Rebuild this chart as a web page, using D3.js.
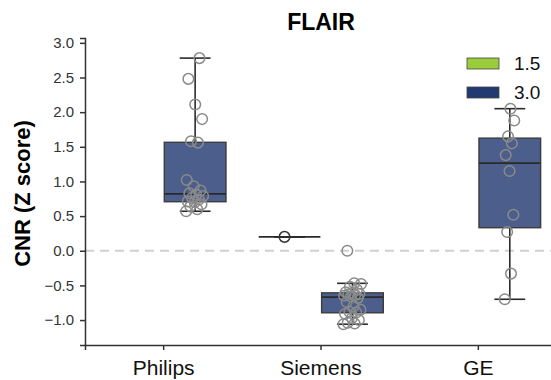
<!DOCTYPE html>
<html>
<head>
<meta charset="utf-8">
<script src="https://cdn.jsdelivr.net/npm/d3@7"></script>
<style>
  body { margin: 0; background: #fff; }
  text { font-family: Arial, "Liberation Sans", sans-serif; }
</style>
</head>
<body>
<script>
const width = 551,
  height = 380;

// data
const scanners = ['Philips', 'Siemens', 'GE'];
const fields = ['1.5', '3.0'];
const yTicks = [-1.0, -0.5, 0.0, 0.5, 1.0, 1.5, 2.0, 2.5, 3.0];

const philips15 = [];
const philips30 = [0.57, 0.6, 0.64, 0.67, 0.70, 0.71, 0.74, 0.76, 0.79, 0.81,
  0.83, 0.87, 0.93, 1.02, 1.56, 1.58, 1.90, 2.11, 2.48, 2.78];
const siemens15 = [0.2];
const siemens30 = [-1.06, -1.05, -1.04, -1.0, -0.97, -0.91, -0.89, -0.88, -0.85, -0.80,
  -0.74, -0.68, -0.66, -0.65, -0.64, -0.63, -0.62, -0.61, -0.60, -0.56,
  -0.52, -0.48, -0.47, 0.0];
const ge15 = [];
const ge30 = [-0.70, -0.33, 0.27, 0.52, 1.15, 1.38, 1.55, 1.65, 1.88, 2.05];

const legendColors = ['#9acd3c', '#223a72'];
const boxColors = ['#a3c760', '#4c5e8b'];

const groups = [
  { scanner: 'Philips', field: '1.5', values: philips15 },
  { scanner: 'Philips', field: '3.0', values: philips30 },
  { scanner: 'Siemens', field: '1.5', values: siemens15 },
  { scanner: 'Siemens', field: '3.0', values: siemens30 },
  { scanner: 'GE', field: '1.5', values: ge15 },
  { scanner: 'GE', field: '3.0', values: ge30 }
];

const margin = { top: 38, right: -6, bottom: 35, left: 85 };

const svg = d3.select('body').append('svg')
  .attr('width', width)
  .attr('height', height);

const x = d3.scaleBand()
  .domain(scanners)
  .range([margin.left, width - margin.right]);

const hue = d3.scaleBand()
  .domain(fields)
  .range([x.bandwidth() * 0.1, x.bandwidth() * 0.9]);

const y = d3.scaleLinear()
  .domain([-1.36, 3.07])
  .range([height - margin.bottom, margin.top]);

// zero reference line
svg.append('line')
  .attr('x1', margin.left).attr('x2', width)
  .attr('y1', y(0)).attr('y2', y(0))
  .attr('stroke', '#d0d0d0')
  .attr('stroke-width', 2)
  .attr('stroke-dasharray', '9,6');

// boxes
const boxW = hue.bandwidth() * 0.98;
groups.filter(g => g.values.length).forEach(g => {
  const v = g.values.slice().sort(d3.ascending);
  const q1 = d3.quantile(v, 0.25),
    med = d3.quantile(v, 0.5),
    q3 = d3.quantile(v, 0.75);
  const iqr = q3 - q1;
  const lo = d3.min(v.filter(d => d >= q1 - 1.5 * iqr));
  const hi = d3.max(v.filter(d => d <= q3 + 1.5 * iqr));
  const cx = x(g.scanner) + hue(g.field) + hue.bandwidth() / 2;
  const fi = fields.indexOf(g.field);
  const grp = svg.append('g');

  grp.append('line')
    .attr('x1', cx).attr('x2', cx)
    .attr('y1', y(hi)).attr('y2', y(lo))
    .attr('stroke', '#2a2a2a').attr('stroke-width', 1.6);
  [lo, hi].forEach(d => {
    grp.append('line')
      .attr('x1', cx - boxW / 4).attr('x2', cx + boxW / 4)
      .attr('y1', y(d)).attr('y2', y(d))
      .attr('stroke', '#2a2a2a').attr('stroke-width', 1.6);
  });
  grp.append('rect')
    .attr('x', cx - boxW / 2)
    .attr('width', boxW)
    .attr('y', y(q3))
    .attr('height', Math.max(0, y(q1) - y(q3)))
    .attr('fill', boxColors[fi])
    .attr('stroke', '#3c3c3c').attr('stroke-width', 1.4);
  grp.append('line')
    .attr('x1', cx - boxW / 2).attr('x2', cx + boxW / 2)
    .attr('y1', y(med)).attr('y2', y(med))
    .attr('stroke', '#2a2a2a').attr('stroke-width', 1.8);
});

// strip points, small fixed jitter pattern
groups.forEach(g => {
  const cx = x(g.scanner) + hue(g.field) + hue.bandwidth() / 2;
  const spread = g.values.length > 12 ? 18 : 10;
  svg.append('g').selectAll('circle')
    .data(g.values)
    .join('circle')
    .attr('cx', (d, i) => cx + (((i * 0.618) % 1) - 0.5) * spread)
    .attr('cy', d => y(d))
    .attr('r', 5.3)
    .attr('fill', 'none')
    .attr('stroke', g.values.length === 1 ? '#333' : '#8a8a8a')
    .attr('stroke-width', 1.5);
});

// axes
const yAxis = svg.append('g')
  .attr('transform', `translate(${margin.left},0)`)
  .call(d3.axisLeft(y).tickValues(yTicks).tickFormat(d3.format('.1f')).tickSizeOuter(0).tickSize(5).tickPadding(6));
yAxis.selectAll('text').attr('font-size', 15).attr('fill', '#333');

const xAxis = svg.append('g')
  .attr('transform', `translate(0,${height - margin.bottom})`)
  .call(d3.axisBottom(x).tickSizeOuter(0).tickSize(5).tickPadding(10));
xAxis.selectAll('text').attr('font-size', 21).attr('fill', '#111');

svg.selectAll('.domain, .tick line').attr('stroke', '#333').attr('stroke-width', 1.5);

// titles
svg.append('text')
  .attr('x', (margin.left + width - margin.right) / 2)
  .attr('y', 30)
  .attr('text-anchor', 'middle')
  .attr('font-size', 23)
  .attr('font-weight', 'bold')
  .text('FLAIR');

svg.append('text')
  .attr('transform', `translate(30,${(margin.top + height - margin.bottom) / 2 + 2}) rotate(-90)`)
  .attr('text-anchor', 'middle')
  .attr('font-size', 22)
  .attr('font-weight', 'bold')
  .text('CNR (Z score)');

// legend
const legend = svg.append('g').attr('transform', 'translate(467,58)');
fields.forEach((f, i) => {
  legend.append('rect')
    .attr('x', 0).attr('y', i * 29)
    .attr('width', 32).attr('height', 11)
    .attr('fill', legendColors[i])
    .attr('stroke', '#444').attr('stroke-width', 0.8);
  legend.append('text')
    .attr('x', 47).attr('y', i * 29 + 12)
    .attr('font-size', 19)
    .attr('fill', '#111')
    .text(f);
});
</script>
</body>
</html>
